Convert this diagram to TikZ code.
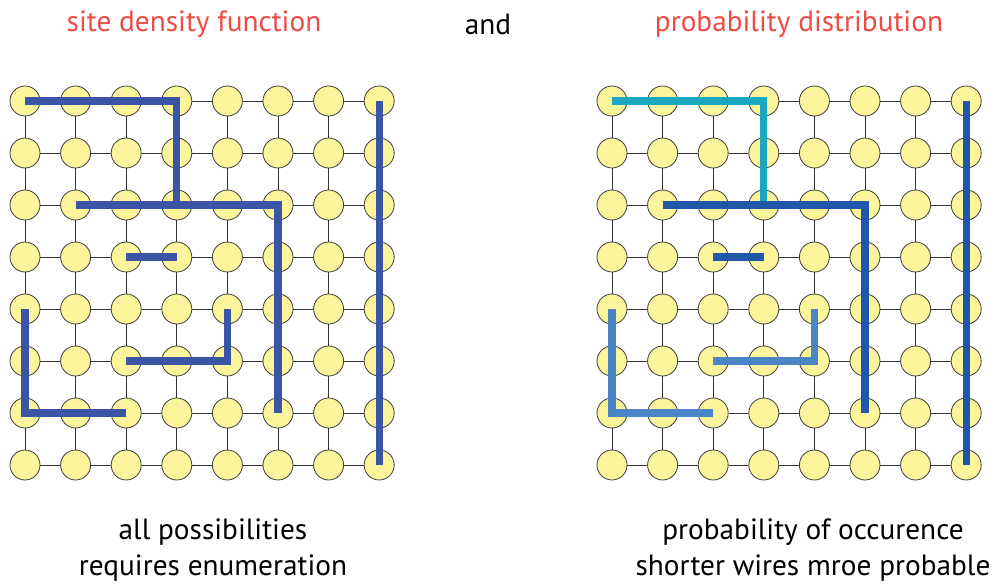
\documentclass[tikz,border=0pt]{standalone}
\usepackage{fontspec}
\setmainfont{PT Sans}
\definecolor{sitefill}{HTML}{FCF59B}
\definecolor{wireblue}{HTML}{3A55A5}
\definecolor{wirecyan}{HTML}{1CA7C1}
\definecolor{wiredark}{HTML}{1F58A8}
\definecolor{wirelight}{HTML}{4A86C5}
\definecolor{titlered}{HTML}{EE4B45}
\tikzset{site/.style = {shape = circle, draw = black!75, line width = 0.7pt, fill = sitefill, minimum size = 0.9cm, inner sep = 0pt}}
\tikzset{link/.style = {draw = black!80, line width = 0.8pt}}
\tikzset{wire/.style = {line width = 6pt, line cap = butt, line join = miter}}
\tikzset{label/.style = {font = \fontsize{25pt}{31pt}\selectfont, align = center}}

\begin{document}
\begin{tikzpicture}[x = 0.03cm, y = -0.03cm]
	\useasboundingbox (0, 0) rectangle (997, 586);

	% the two lattices of sites
	\foreach \g/\xo in {L/25, R/612} {
		\foreach \i in {0,...,7}
			\foreach \j in {0,...,7}
				\node[site] (\g-\i-\j) at ({\xo + 50.6*\i}, {101 + 52*\j}) {};
	}
	\foreach \g in {L, R} {
		\foreach \i in {0,...,6} {
			\pgfmathtruncatemacro{\k}{\i + 1}
			\foreach \j in {0,...,7} {
				\draw[link] (\g-\i-\j) -- (\g-\k-\j);
				\draw[link] (\g-\j-\i) -- (\g-\j-\k);
			}
		}
	}

	% wires, left
	\draw[wire, wireblue] (L-0-0.center) -- (L-3-0.center) -- (L-3-2.center);
	\draw[wire, wireblue] (L-1-2.center) -- (L-5-2.center) -- (L-5-6.center);
	\draw[wire, wireblue] (L-2-3.center) -- (L-3-3.center);
	\draw[wire, wireblue] (L-0-4.center) -- (L-0-6.center) -- (L-2-6.center);
	\draw[wire, wireblue] (L-2-5.center) -- (L-4-5.center) -- (L-4-4.center);
	\draw[wire, wireblue] (L-7-0.center) -- (L-7-7.center);

	% wires, right
	\draw[wire, wirecyan] (R-0-0.center) -- (R-3-0.center) -- (R-3-2.center);
	\draw[wire, wiredark] (R-1-2.center) -- (R-5-2.center) -- (R-5-6.center);
	\draw[wire, wiredark] (R-2-3.center) -- (R-3-3.center);
	\draw[wire, wirelight] (R-0-4.center) -- (R-0-6.center) -- (R-2-6.center);
	\draw[wire, wirelight] (R-2-5.center) -- (R-4-5.center) -- (R-4-4.center);
	\draw[wire, wiredark] (R-7-0.center) -- (R-7-7.center);

	% texts
	\node[label, titlered] (sdf) at (194, 24) {site density function};
	\node[label] (and) at (488, 24) {and};
	\node[label, titlered] (pdist) at (799, 24) {probability distribution};
	\node[label] (lcap) at (213, 550) {all possibilities\\requires enumeration};
	\node[label] (rcap) at (813, 550) {probability of occurence\\shorter wires mroe probable};
\end{tikzpicture}
\end{document}
